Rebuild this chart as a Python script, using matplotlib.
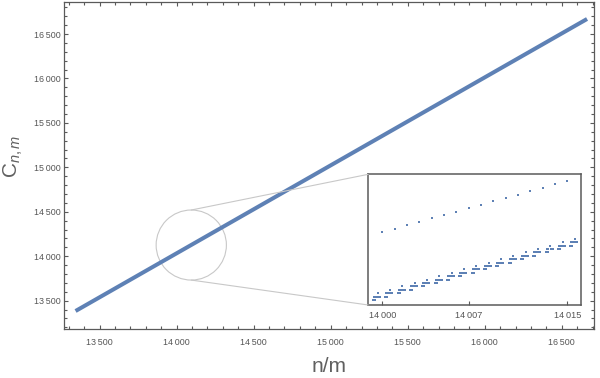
import numpy as np
import matplotlib
matplotlib.use('Agg')
import matplotlib.pyplot as plt
from matplotlib.patches import Ellipse, ConnectionPatch
from matplotlib.ticker import MultipleLocator, FixedLocator, FuncFormatter

plt.rcParams['font.family'] = ['Liberation Sans', 'DejaVu Sans']
plt.rcParams['mathtext.fontset'] = 'custom'
plt.rcParams['mathtext.rm'] = 'Liberation Sans'
plt.rcParams['mathtext.it'] = 'Liberation Sans:italic'

# main band (ends)
main_x = [13344, 16664]
main_y = [13384, 16669]

# inset: upper row, one point per integer n/m
upper_x = [14000, 14001, 14002, 14003, 14004, 14005, 14006, 14007,
           14008, 14009, 14010, 14011, 14012, 14013, 14014, 14015]
upper_y = [14020, 14021, 14022, 14023, 14024, 14025, 14026, 14027,
           14028, 14029, 14030, 14031, 14032, 14033, 14034, 14035]

# inset: lower clusters (lower-left point of each cluster + cluster shape)
group_x = [13999.24, 14000.24, 14001.24, 14002.24, 14003.24, 14004.24,
           14005.24, 14006.24, 14007.24, 14008.24, 14009.24, 14010.24,
           14011.24, 14012.24, 14013.24, 14014.24, 14015.24]
group_y = [14000, 14001, 14002, 14003, 14004, 14005, 14006, 14007, 14008,
           14009, 14010, 14011, 14012, 14013, 14014, 14015, 14016]
shape_dx = [0.0, 0.16, 0.08, 0.24, 0.41, 0.57, 0.38]
shape_dy = [0, 0, 1, 1, 1, 1, 2]

inset_ticks = [14000, 14007, 14015]

blue = '#5E81B5'
frame = '#5a5a5a'
grey_line = '#c8c8c8'


def thin(v, pos=None):
    return '{:,}'.format(int(round(v))).replace(',', '\u2009')


fig = plt.figure(figsize=(6, 3.78), dpi=100)
ax = fig.add_axes([0.1072, 0.1288, 0.882, 0.8659])

ax.plot(main_x, main_y, color=blue, lw=2.9, solid_capstyle='butt', zorder=3)

ax.set_xlim(13271, 16706)
ax.set_ylim(13178, 16860)
ax.xaxis.set_major_locator(MultipleLocator(500))
ax.xaxis.set_minor_locator(MultipleLocator(100))
ax.yaxis.set_major_locator(MultipleLocator(500))
ax.yaxis.set_minor_locator(MultipleLocator(100))
ax.xaxis.set_major_formatter(FuncFormatter(thin))
ax.yaxis.set_major_formatter(FuncFormatter(thin))
ax.tick_params(which='both', direction='in', top=True, right=True,
               color=frame, width=0.8, labelcolor='#555555', labelsize=6.4)
ax.tick_params(which='major', length=3.1)
ax.tick_params(which='minor', length=1.9)
ax.tick_params(axis='x', pad=6.5)
ax.tick_params(axis='y', pad=2.3)
for s in ax.spines.values():
    s.set_color(frame)
    s.set_linewidth(0.9)

ax.set_xlabel('n/m', fontsize=15, color='#606060', labelpad=7)
ax.set_ylabel(r'C$_{n,m}$', fontsize=15, color='#606060')
ax.yaxis.set_label_coords(-0.074, 0.53)

# magnifier circle
cx, cy = 14095, 14126
rx, ry = 228, 394
ax.add_patch(Ellipse((cx, cy), 2 * rx, 2 * ry, fill=False,
                     edgecolor=grey_line, lw=0.8, zorder=2))

# inset
ins = fig.add_axes([0.6138, 0.1931, 0.355, 0.3458])
lx, ly = [], []
for gx, gy in zip(group_x, group_y):
    for dx, dy in zip(shape_dx, shape_dy):
        lx.append(gx + dx)
        ly.append(gy + dy)
ins.plot(lx, ly, 's', color=blue, ms=1.8, mew=0)
ins.plot(upper_x, upper_y, 's', color=blue, ms=2.0, mew=0)
ins.set_xlim(13998.86, 14016.14)
ins.set_ylim(13998.53, 14036.96)
ins.xaxis.set_major_locator(FixedLocator(inset_ticks))
ins.xaxis.set_major_formatter(FuncFormatter(thin))
ins.set_yticks([])
ins.tick_params(axis='x', direction='in', length=3, width=0.8, color=frame,
                labelcolor='#555555', labelsize=6.6, pad=4.5)
for s in ins.spines.values():
    s.set_color(frame)
    s.set_linewidth(1.1)

for ya, yb in [(cy + ry, 1), (cy - ry, 0)]:
    con = ConnectionPatch(xyA=(cx, ya), coordsA=ax.transData,
                          xyB=(0, yb), coordsB=ins.transAxes,
                          color=grey_line, lw=0.8, zorder=1)
    fig.add_artist(con)

fig.savefig('out.png', dpi=100)
